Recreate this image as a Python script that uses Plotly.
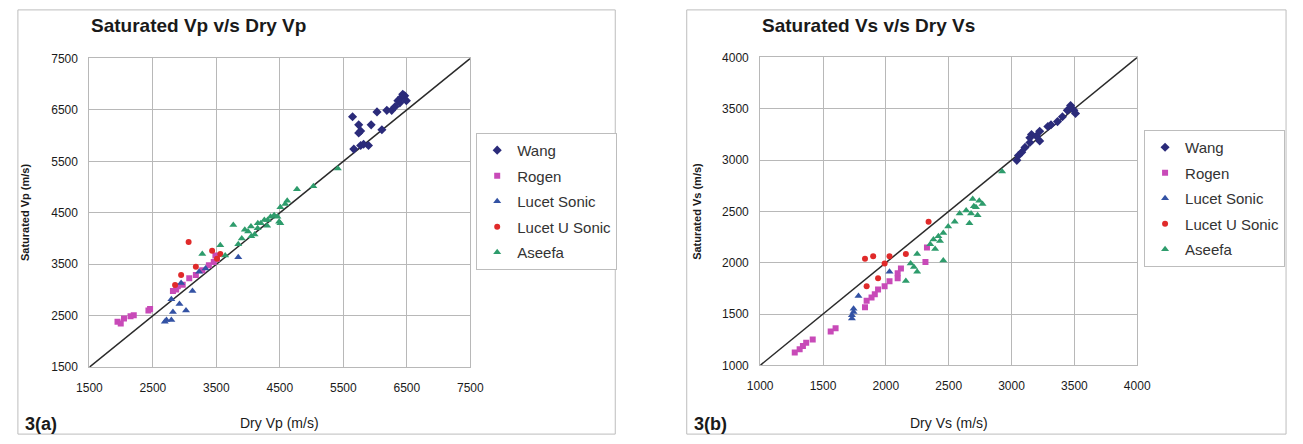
import plotly.graph_objects as go

W, H = 1303, 444

# ---------------- Data: Vp (left panel) ----------------
wang_vp_dry = [5645, 5742, 5773, 5742, 5938, 6030, 6107, 6185, 6262, 6313, 6359, 6416, 6467, 6493, 5665, 5773, 5819, 5896, 6436, 6390]
wang_vp_sat = [6365, 6208, 6089, 6051, 6208, 6460, 6113, 6490, 6490, 6559, 6678, 6742, 6772, 6678, 5737, 5807, 5831, 5807, 6800, 6635]

rogen_vp_dry = [1943, 1994, 2045, 2148, 2199, 2430, 2456, 2816, 2867, 2893, 2970, 3073, 3177, 3278, 3382, 3459, 3510, 3485]
rogen_vp_sat = [2384, 2352, 2446, 2491, 2510, 2604, 2634, 2980, 3011, 3074, 3104, 3230, 3292, 3386, 3480, 3544, 3606, 3669]

lsonic_vp_dry = [3845, 3124, 2919, 3022, 2816, 2714, 2688, 2791, 2791, 2945, 3228, 3330]
lsonic_vp_sat = [3638, 2980, 2728, 2604, 2572, 2416, 2384, 2416, 2822, 3136, 3356, 3418]

lusonic_vp_dry = [3063, 3433, 3177, 2945, 3562, 3510, 2850]
lusonic_vp_sat = [3932, 3763, 3450, 3292, 3700, 3606, 3100]

aseefa_vp_dry = [4770, 4616, 4508, 4462, 4354, 4256, 4153, 4045, 3948, 4508, 3767, 3562, 3278, 4200,
                 4307, 4410, 4585, 4488, 4000, 4102, 3845, 3639, 5413, 5028, 4050, 3900, 4150, 4300]
aseefa_vp_sat = [4955, 4735, 4609, 4421, 4421, 4359, 4297, 4233, 4171, 4297, 4265, 3870, 3700, 4297,
                 4359, 4453, 4673, 4327, 4139, 4077, 3888, 3669, 5361, 5017, 4044, 4000, 4200, 4250]

# ---------------- Data: Vs (right panel) ----------------
wang_vs_dry = [3042, 3081, 3107, 3146, 3159, 3198, 3224, 3224, 3289, 3314, 3366, 3405, 3444, 3470, 3496, 3509, 3146, 3055]
wang_vs_sat = [2997, 3075, 3123, 3170, 3248, 3233, 3186, 3280, 3327, 3343, 3374, 3421, 3484, 3531, 3484, 3453, 3217, 3044]

rogen_vs_dry = [1275, 1314, 1366, 1418, 1340, 1561, 1600, 1834, 1847, 1912, 1938, 1990, 2029, 2094, 2120, 2094, 1886, 2315, 2327]
rogen_vs_sat = [1125, 1157, 1220, 1252, 1189, 1330, 1361, 1566, 1629, 1692, 1739, 1771, 1818, 1849, 1943, 1896, 1660, 2006, 2148]

lsonic_vs_dry = [1730, 1743, 1730, 1782, 2029, 1743]
lsonic_vs_sat = [1456, 1519, 1487, 1676, 1912, 1550]

lusonic_vs_dry = [1834, 1899, 2029, 1990, 2159, 1938, 1847, 2340]
lusonic_vs_sat = [2038, 2063, 2063, 1991, 2085, 1849, 1771, 2399]

aseefa_vs_dry = [2743, 2717, 2678, 2639, 2730, 2665, 2548, 2496, 2457, 2418, 2379, 2353, 2392, 2431,
                 2249, 2197, 2249, 2223, 2159, 2457, 2587, 2769, 2925, 2691, 2700]
aseefa_vs_sat = [2604, 2541, 2478, 2509, 2462, 2384, 2399, 2352, 2290, 2258, 2226, 2179, 2132, 2210,
                 2085, 1991, 1912, 1959, 1821, 2022, 2478, 2572, 2887, 2620, 2550]

# 1:1 lines
diag_vp = [1500, 7500]
diag_vs = [1000, 4000]

series_names = ["Wang", "Rogen", "Lucet Sonic", "Lucet U Sonic", "Aseefa"]
vp_ticks = [1500, 2500, 3500, 4500, 5500, 6500, 7500]
vs_ticks = [1000, 1500, 2000, 2500, 3000, 3500, 4000]

# ---------------- Styles ----------------
styles = {
    "Wang": dict(symbol="diamond", color="#2B2B7A", size=7),
    "Rogen": dict(symbol="square", color="#C84AB8", size=6),
    "Lucet Sonic": dict(symbol="triangle-up", color="#3352A4", size=7),
    "Lucet U Sonic": dict(symbol="circle", color="#E02A2A", size=6),
    "Aseefa": dict(symbol="triangle-up", color="#2E9C6C", size=7),
}

FONT = "Liberation Sans, Arial, sans-serif"
GRID = "#B8B8B8"

vp_data = {
    "Wang": (wang_vp_dry, wang_vp_sat),
    "Rogen": (rogen_vp_dry, rogen_vp_sat),
    "Lucet Sonic": (lsonic_vp_dry, lsonic_vp_sat),
    "Lucet U Sonic": (lusonic_vp_dry, lusonic_vp_sat),
    "Aseefa": (aseefa_vp_dry, aseefa_vp_sat),
}
vs_data = {
    "Wang": (wang_vs_dry, wang_vs_sat),
    "Rogen": (rogen_vs_dry, rogen_vs_sat),
    "Lucet Sonic": (lsonic_vs_dry, lsonic_vs_sat),
    "Lucet U Sonic": (lusonic_vs_dry, lusonic_vs_sat),
    "Aseefa": (aseefa_vs_dry, aseefa_vs_sat),
}

fig = go.Figure()

fig.add_trace(go.Scatter(x=diag_vp, y=diag_vp, mode="lines", line=dict(color="#2A2A2A", width=1.5),
                         showlegend=False, hoverinfo="skip", xaxis="x", yaxis="y"))
fig.add_trace(go.Scatter(x=diag_vs, y=diag_vs, mode="lines", line=dict(color="#2A2A2A", width=1.5),
                         showlegend=False, hoverinfo="skip", xaxis="x2", yaxis="y2"))

for name in series_names:
    st = styles[name]
    dx, sy = vp_data[name]
    fig.add_trace(go.Scatter(x=dx, y=sy, mode="markers", name=name,
                             marker=dict(symbol=st["symbol"], color=st["color"], size=st["size"]),
                             xaxis="x", yaxis="y", legend="legend", legendgroup="a" + name))
for name in series_names:
    st = styles[name]
    dx, sy = vs_data[name]
    fig.add_trace(go.Scatter(x=dx, y=sy, mode="markers", name=name,
                             marker=dict(symbol=st["symbol"], color=st["color"], size=st["size"]),
                             xaxis="x2", yaxis="y2", legend="legend2", legendgroup="b" + name))


def px_x(p):
    return p / W


def px_y(p):
    return 1 - p / H


axis_common = dict(showgrid=True, gridcolor=GRID, gridwidth=1, zeroline=False,
                   showline=True, linecolor=GRID, linewidth=1, mirror=True, ticks="",
                   tickfont=dict(family=FONT, size=12, color="#1A1A1A"))
xaxis_extra = dict(ticklabelstandoff=9)
yaxis_extra = dict(ticklabelstandoff=8)

legend_common = dict(xanchor="left", yanchor="top", bordercolor="#BDBDBD", borderwidth=1,
                     bgcolor="white", font=dict(family=FONT, size=15, color="#333333"),
                     tracegroupgap=3)

fig.update_layout(
    width=W, height=H,
    margin=dict(l=0, r=0, t=0, b=0),
    paper_bgcolor="white", plot_bgcolor="white",
    font=dict(family=FONT, color="#222222"),
    xaxis=dict(domain=[px_x(78), px_x(467)], range=[1500, 7500], tickvals=vp_ticks,
               anchor="y", **axis_common, **xaxis_extra),
    yaxis=dict(domain=[px_y(372), px_y(53)], range=[1500, 7500], tickvals=vp_ticks,
               anchor="x", **axis_common, **yaxis_extra),
    xaxis2=dict(domain=[px_x(763), px_x(1148)], range=[1000, 4000], tickvals=vs_ticks,
                anchor="y2", **axis_common, **xaxis_extra),
    yaxis2=dict(domain=[px_y(370), px_y(52)], range=[1000, 4000], tickvals=vs_ticks,
                anchor="x2", **axis_common, **yaxis_extra),
    legend=dict(x=px_x(473), y=px_y(130), **legend_common),
    legend2=dict(x=px_x(1155), y=px_y(127), **legend_common),
    showlegend=True,
)

# panel frames
for x0, x1 in [(5, 615), (688, 1300)]:
    fig.add_shape(type="rect", xref="paper", yref="paper",
                  x0=px_x(x0), x1=px_x(x1), y0=px_y(441), y1=px_y(3),
                  line=dict(color="#BDBDBD", width=1), fillcolor="rgba(0,0,0,0)", layer="below")

annots = [
    dict(text="<b>Saturated Vp v/s Dry Vp</b>", x=px_x(78), y=px_y(19), xanchor="left", size=19),
    dict(text="<b>Saturated Vs v/s Dry Vs</b>", x=px_x(763), y=px_y(19), xanchor="left", size=19),
    dict(text="<b>3(a)</b>", x=px_x(10), y=px_y(431), xanchor="left", size=18),
    dict(text="<b>3(b)</b>", x=px_x(693), y=px_y(431), xanchor="left", size=18),
    dict(text="Dry Vp (m/s)", x=px_x(272), y=px_y(430), xanchor="center", size=14),
    dict(text="Dry Vs (m/s)", x=px_x(956), y=px_y(430), xanchor="center", size=14),
]
for a in annots:
    fig.add_annotation(text=a["text"], x=a["x"], y=a["y"], xref="paper", yref="paper",
                       xanchor=a["xanchor"], yanchor="middle", showarrow=False,
                       font=dict(family=FONT, size=a["size"], color="#1A1A1A"))

for txt, xp, yp in [("<b>Saturated Vp (m/s)</b>", 13, 212), ("<b>Saturated Vs (m/s)</b>", 699, 211)]:
    fig.add_annotation(text=txt, x=px_x(xp), y=px_y(yp), xref="paper", yref="paper",
                       xanchor="center", yanchor="middle", textangle=-90, showarrow=False,
                       font=dict(family=FONT, size=11, color="#1A1A1A"))

fig.write_html("out.html", config={"displayModeBar": False},
               post_script="document.body.style.margin='0';")
